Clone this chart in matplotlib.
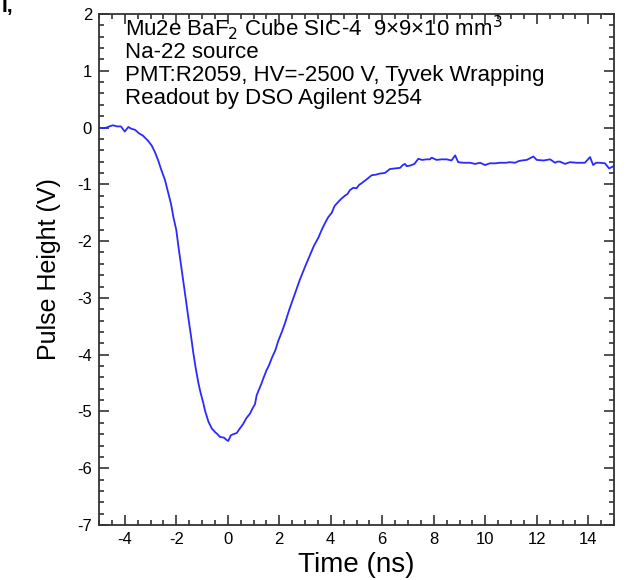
import matplotlib
matplotlib.use("Agg")
import matplotlib.pyplot as plt
from matplotlib.ticker import MultipleLocator

plt.rcParams["font.family"] = ["Liberation Sans", "DejaVu Sans"]
plt.rcParams["axes.unicode_minus"] = False

# digitized pulse (time in ns, pulse height in V)
time_ns = [
    -5.0, -4.85, -4.7, -4.6, -4.46, -4.3, -4.15, -4.0, -3.86, -3.75, -3.6, -3.45,
    -3.3, -3.1, -2.95, -2.83, -2.7, -2.6, -2.44, -2.31, -2.2, -2.11, -2.0, -1.92,
    -1.82, -1.73, -1.63, -1.53, -1.43, -1.34, -1.24, -1.14, -1.05, -0.95, -0.88,
    -0.75, -0.62, -0.5, -0.4, -0.3, -0.15, -0.05, 0.02, 0.12, 0.22, 0.35, 0.47,
    0.6, 0.72, 0.86, 0.96, 1.06, 1.12, 1.19, 1.3, 1.38, 1.5, 1.6, 1.71, 1.85,
    1.96, 2.1, 2.22, 2.38, 2.55, 2.7, 2.8, 2.87, 3.03, 3.19, 3.35, 3.52, 3.65,
    3.78, 3.9, 4.04, 4.15, 4.29, 4.42, 4.55, 4.65, 4.75, 4.88, 5.0, 5.1, 5.2,
    5.4, 5.59, 5.75, 5.91, 6.1, 6.3, 6.5, 6.69, 6.8, 6.88, 6.95, 7.08, 7.25,
    7.4, 7.55, 7.72, 7.85, 7.92, 8.11, 8.3, 8.5, 8.69, 8.83, 8.95, 9.15, 9.41,
    9.6, 9.8, 9.99, 10.18, 10.4, 10.57, 10.8, 10.96, 11.16, 11.3, 11.42, 11.61,
    11.74, 11.87, 12.0, 12.26, 12.52, 12.71, 12.8, 12.9, 13.1, 13.29, 13.55,
    13.87, 14.07, 14.19, 14.3, 14.46, 14.65, 14.81, 14.98,
]
pulse_v = [
    0.00, -0.01, 0.00, 0.02, 0.04, 0.02, 0.02, -0.07, 0.01, -0.02, -0.04, -0.10,
    -0.14, -0.23, -0.32, -0.43, -0.58, -0.72, -0.92, -1.15, -1.35, -1.58, -1.80,
    -2.08, -2.40, -2.70, -3.02, -3.35, -3.66, -3.96, -4.25, -4.50, -4.68, -4.85,
    -4.99, -5.18, -5.30, -5.36, -5.40, -5.45, -5.46, -5.50, -5.52, -5.42, -5.40,
    -5.38, -5.30, -5.22, -5.12, -5.04, -4.95, -4.87, -4.72, -4.64, -4.52, -4.42,
    -4.28, -4.19, -4.06, -3.92, -3.76, -3.60, -3.45, -3.22, -3.00, -2.80, -2.68,
    -2.60, -2.42, -2.25, -2.08, -1.94, -1.80, -1.68, -1.58, -1.50, -1.38, -1.31,
    -1.25, -1.20, -1.17, -1.10, -1.06, -1.07, -1.01, -0.98, -0.91, -0.84, -0.83,
    -0.81, -0.80, -0.73, -0.72, -0.71, -0.66, -0.64, -0.68, -0.67, -0.64, -0.55,
    -0.57, -0.56, -0.56, -0.53, -0.57, -0.56, -0.56, -0.58, -0.49, -0.61, -0.62,
    -0.62, -0.64, -0.62, -0.66, -0.63, -0.63, -0.62, -0.62, -0.61, -0.62, -0.59,
    -0.58, -0.57, -0.54, -0.51, -0.57, -0.58, -0.56, -0.62, -0.60, -0.60, -0.64,
    -0.61, -0.62, -0.62, -0.52, -0.66, -0.62, -0.62, -0.63, -0.72, -0.68,
]

info_lines = [
    r"Mu2e BaF$_2$ Cube SIC-4  9×9×10 mm$^3$",
    "Na-22 source",
    "PMT:R2059, HV=-2500 V, Tyvek Wrapping",
    "Readout by DSO Agilent 9254",
]
info_baselines_px = [36, 58, 81, 104]

fig = plt.figure(figsize=(6.28, 5.8), dpi=100)
ax = fig.add_axes([99 / 628, 1 - 525 / 580, 515 / 628, 511 / 580])

ax.plot(time_ns, pulse_v, color="#2a2aff", lw=1.3)

ax.set_xlim(-5, 15)
ax.set_ylim(-7, 2)
ax.xaxis.set_major_locator(MultipleLocator(2))
ax.xaxis.set_minor_locator(MultipleLocator(0.5))
ax.yaxis.set_major_locator(MultipleLocator(1))
ax.yaxis.set_minor_locator(MultipleLocator(0.2))
ax.tick_params(which="both", direction="in", top=True, right=True,
               width=1.2, color="#333333", labelsize=12)
ax.tick_params(which="major", length=7, pad=5)
ax.tick_params(which="minor", length=3.5)
for s in ax.spines.values():
    s.set_linewidth(1.3)
    s.set_color("#333333")

ax.set_xlabel("Time (ns)", fontsize=20, labelpad=4)
ax.set_ylabel("Pulse Height (V)", fontsize=18, labelpad=12)

for txt, yb in zip(info_lines, info_baselines_px):
    fig.text(125 / 628, 1 - yb / 580, txt, fontsize=16, va="baseline")

fig.text(2 / 628, 1 - 12 / 580, "I,", fontsize=15, fontweight="bold", va="baseline")

fig.savefig("out.png", dpi=100)
